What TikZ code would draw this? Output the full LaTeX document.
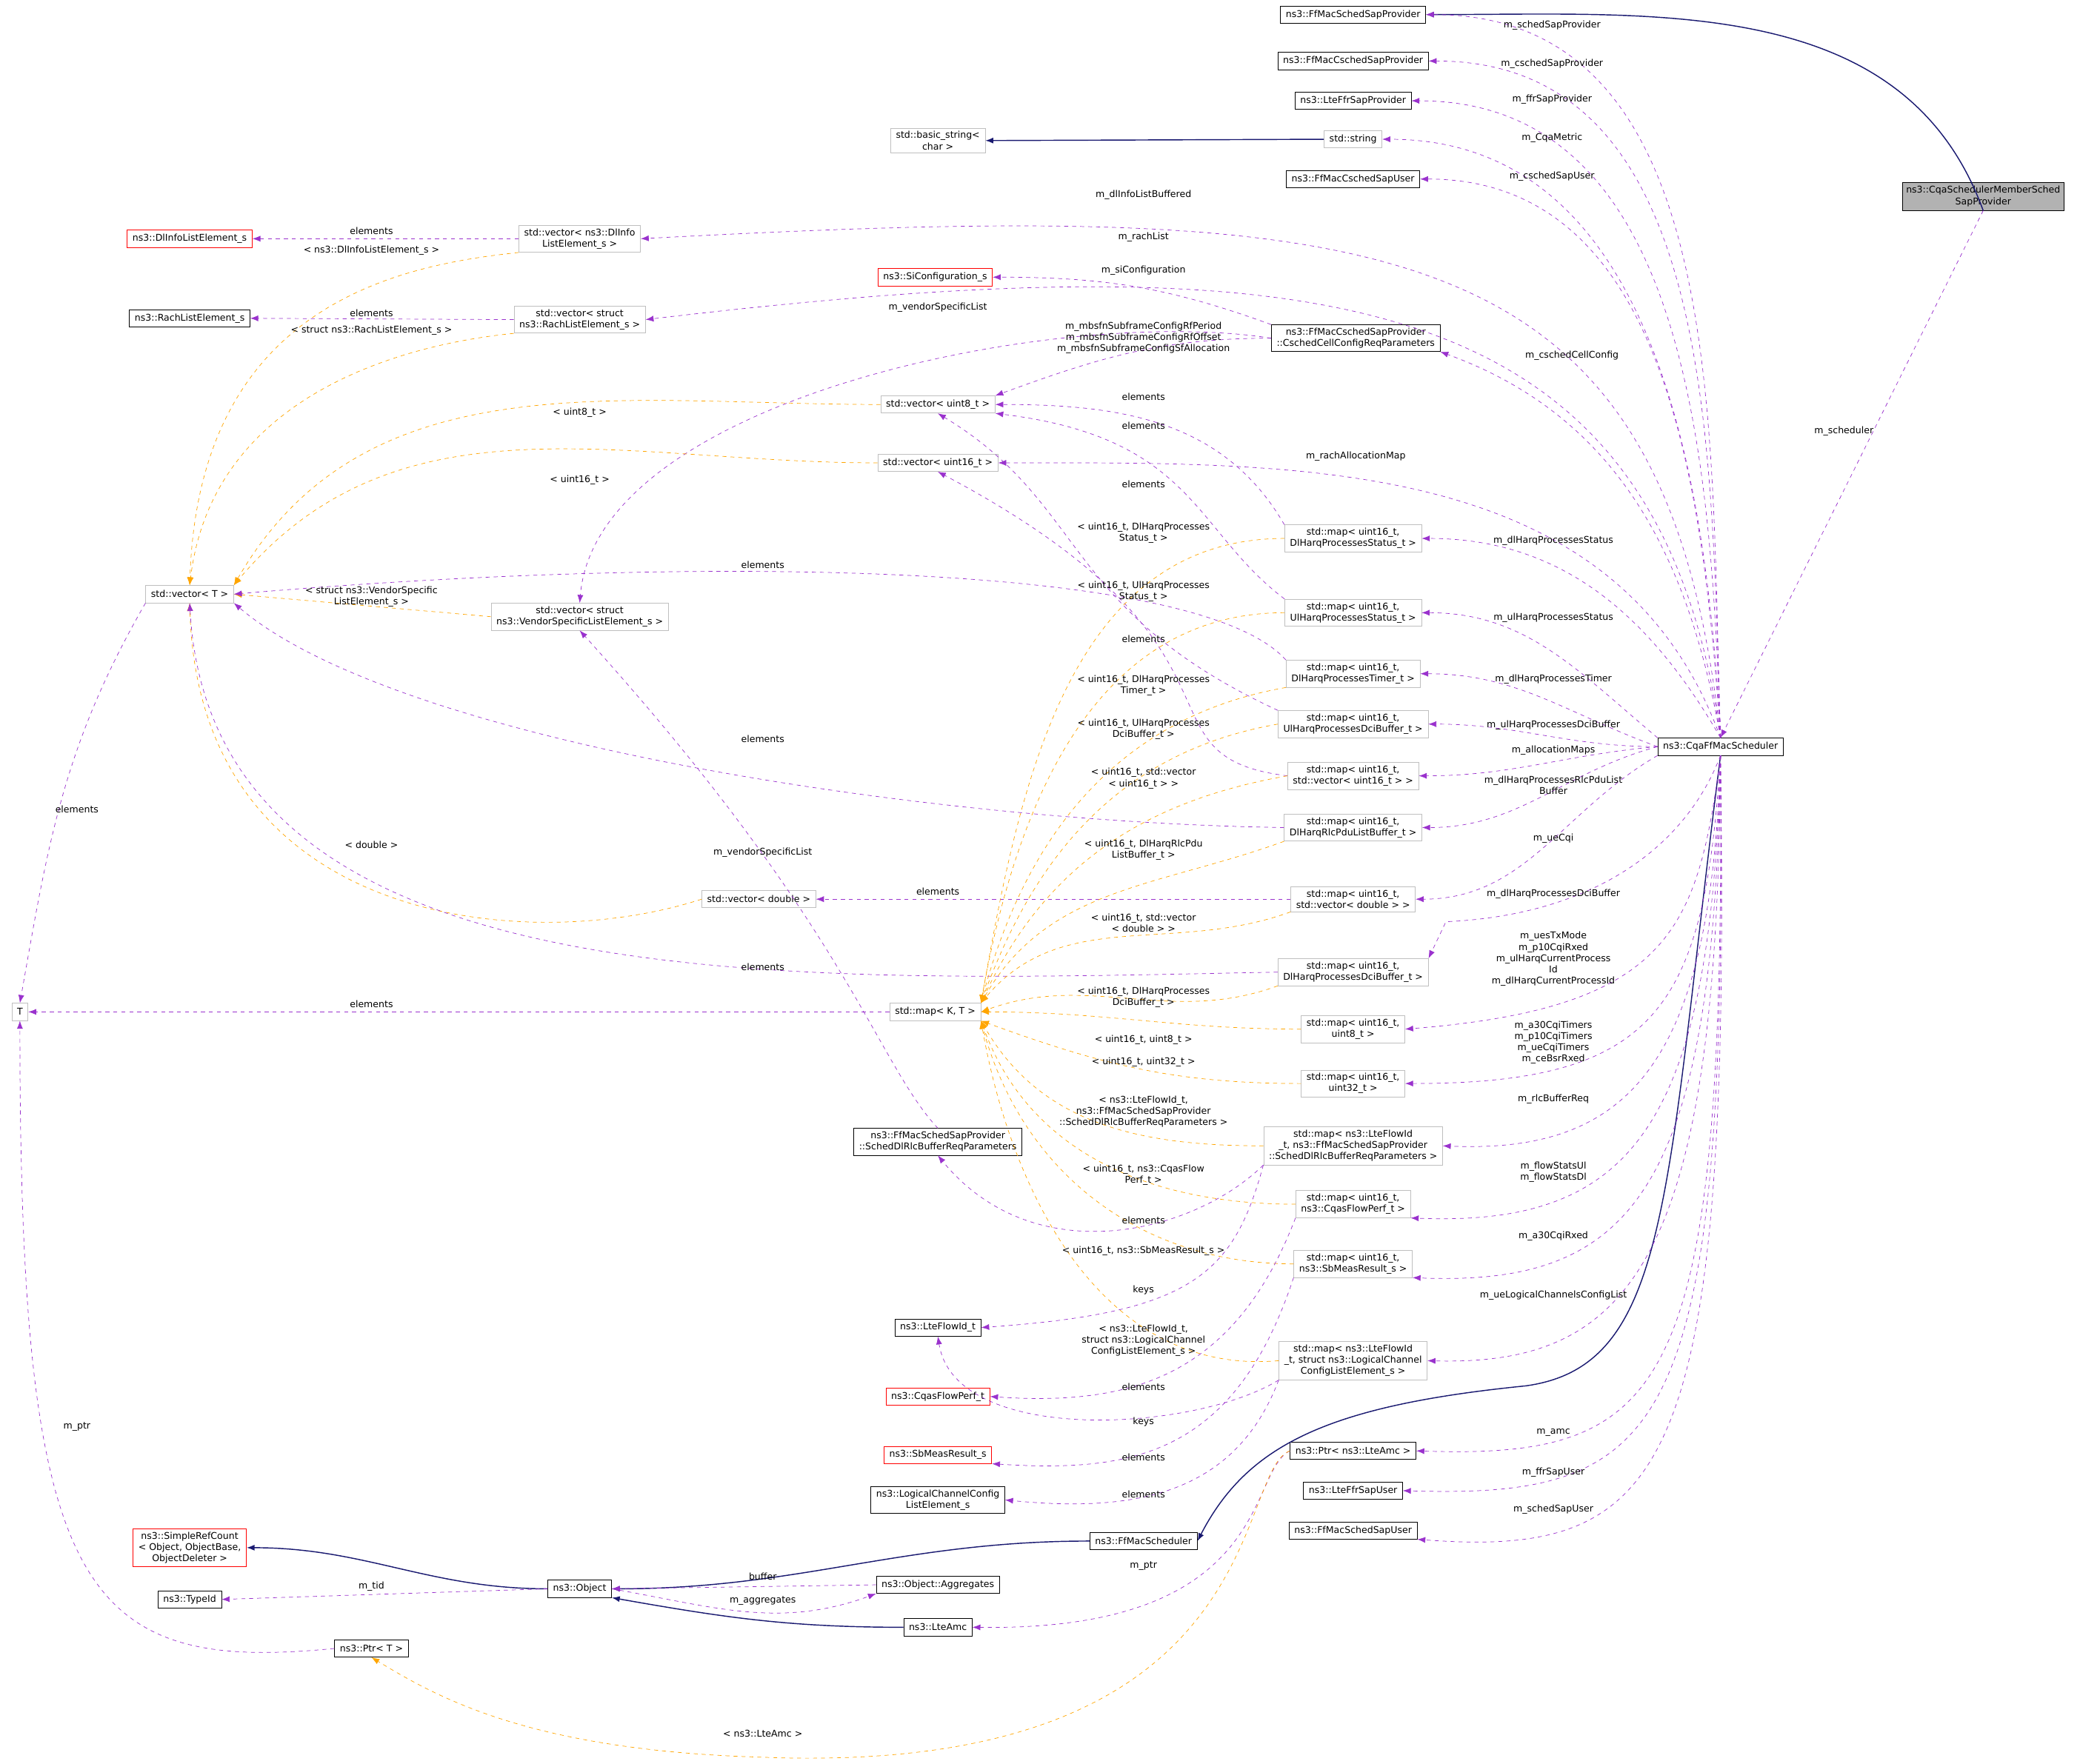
\documentclass[tikz,border=0pt]{standalone}
\usepackage{fontspec}
\setmainfont{DejaVu Sans}
\usetikzlibrary{arrows.meta}
\definecolor{pur}{HTML}{9A32CD}
\definecolor{org}{HTML}{FFA500}
\definecolor{nav}{HTML}{191970}
\definecolor{gbd}{HTML}{BFBFBF}
\begin{document}
\begin{tikzpicture}[x=1pt,y=-1pt,
  every node/.style={font=\fontsize{7}{8.4}\selectfont,align=center},
  gbox/.style={draw=gbd,fill=white,inner xsep=4pt,inner ysep=2.5pt,minimum height=13pt},
  bbox/.style={draw=black,fill=white,inner xsep=4pt,inner ysep=2.5pt,minimum height=13pt},
  rbox/.style={draw=red,fill=white,inner xsep=4pt,inner ysep=2.5pt,minimum height=13pt},
  lbl/.style={inner sep=0.5pt},
  pe/.style={draw=pur,dashed,-{Latex[length=6pt,width=4.5pt]}},
  oe/.style={draw=org,dashed,-{Latex[length=6pt,width=4.5pt]}},
  ne/.style={draw=nav,line width=0.8pt,-{Latex[length=6pt,width=4.5pt]}}]
\useasboundingbox (0,0) rectangle (1568,1330);
% nodes
\node[bbox] (N1) at (1020,11) {ns3::FfMacSchedSapProvider};
\node[bbox] (N2) at (1020,46) {ns3::FfMacCschedSapProvider};
\node[bbox] (N3) at (1020,76) {ns3::LteFfrSapProvider};
\node[gbox] (str) at (1020,105) {std::string};
\node[gbox] (bas) at (707,106) {std::basic\_string\textless\\char \textgreater};
\node[bbox] (N4) at (1020,135) {ns3::FfMacCschedSapUser};
\node[draw=black,fill=gray!60,inner sep=3pt] (mem) at (1495,148) {ns3::CqaSchedulerMemberSched\\SapProvider};
\node[gbox] (dli) at (437,180) {std::vector\textless{} ns3::DlInfo\\ListElement\_s \textgreater};
\node[rbox] (dliE) at (143,180) {ns3::DlInfoListElement\_s};
\node[rbox] (sic) at (705,209) {ns3::SiConfiguration\_s};
\node[bbox] (rachE) at (143,240) {ns3::RachListElement\_s};
\node[gbox] (rachV) at (437,241) {std::vector\textless{} struct\\ns3::RachListElement\_s \textgreater};
\node[bbox] (csc) at (1022,255) {ns3::FfMacCschedSapProvider\\::CschedCellConfigReqParameters};
\node[gbox] (v8) at (707,305) {std::vector\textless{} uint8\_t \textgreater};
\node[gbox] (v16) at (707,349) {std::vector\textless{} uint16\_t \textgreater};
\node[gbox] (vT) at (143,448) {std::vector\textless{} T \textgreater};
\node[gbox] (vV) at (437,465) {std::vector\textless{} struct\\ns3::VendorSpecificListElement\_s \textgreater};
\node[gbox] (mDS) at (1020,406) {std::map\textless{} uint16\_t,\\DlHarqProcessesStatus\_t \textgreater};
\node[gbox] (mUS) at (1020,462) {std::map\textless{} uint16\_t,\\UlHarqProcessesStatus\_t \textgreater};
\node[gbox] (mDT) at (1020,508) {std::map\textless{} uint16\_t,\\DlHarqProcessesTimer\_t \textgreater};
\node[gbox] (mUD) at (1020,546) {std::map\textless{} uint16\_t,\\UlHarqProcessesDciBuffer\_t \textgreater};
\node[gbox] (mV16) at (1020,585) {std::map\textless{} uint16\_t,\\std::vector\textless{} uint16\_t \textgreater{} \textgreater};
\node[gbox] (mR) at (1020,624) {std::map\textless{} uint16\_t,\\DlHarqRlcPduListBuffer\_t \textgreater};
\node[gbox] (vD) at (572,678) {std::vector\textless{} double \textgreater};
\node[gbox] (mVD) at (1020,678) {std::map\textless{} uint16\_t,\\std::vector\textless{} double \textgreater{} \textgreater};
\node[gbox] (mDD) at (1020,733) {std::map\textless{} uint16\_t,\\DlHarqProcessesDciBuffer\_t \textgreater};
\node[gbox] (T) at (15,763) {T};
\node[gbox] (mKT) at (705,763) {std::map\textless{} K, T \textgreater};
\node[gbox] (m8) at (1020,776) {std::map\textless{} uint16\_t,\\uint8\_t \textgreater};
\node[gbox] (m32) at (1020,817) {std::map\textless{} uint16\_t,\\uint32\_t \textgreater};
\node[gbox] (mLR) at (1020,864) {std::map\textless{} ns3::LteFlowId\\\_t, ns3::FfMacSchedSapProvider\\::SchedDlRlcBufferReqParameters \textgreater};
\node[bbox] (sDl) at (707,861) {ns3::FfMacSchedSapProvider\\::SchedDlRlcBufferReqParameters};
\node[gbox] (mCq) at (1020,908) {std::map\textless{} uint16\_t,\\ns3::CqasFlowPerf\_t \textgreater};
\node[gbox] (mSb) at (1020,953) {std::map\textless{} uint16\_t,\\ns3::SbMeasResult\_s \textgreater};
\node[bbox] (lfl) at (707,1001) {ns3::LteFlowId\_t};
\node[gbox] (mLg) at (1020,1026) {std::map\textless{} ns3::LteFlowId\\\_t, struct ns3::LogicalChannel\\ConfigListElement\_s \textgreater};
\node[rbox] (cqP) at (707,1053) {ns3::CqasFlowPerf\_t};
\node[bbox] (pAmc) at (1020,1094) {ns3::Ptr\textless{} ns3::LteAmc \textgreater};
\node[rbox] (sbM) at (707,1097) {ns3::SbMeasResult\_s};
\node[bbox] (ffU) at (1020,1124) {ns3::LteFfrSapUser};
\node[bbox] (lgC) at (707,1131) {ns3::LogicalChannelConfig\\ListElement\_s};
\node[bbox] (scU) at (1020,1154) {ns3::FfMacSchedSapUser};
\node[bbox] (ffS) at (862,1162) {ns3::FfMacScheduler};
\node[rbox] (src) at (143,1167) {ns3::SimpleRefCount\\\textless{} Object, ObjectBase,\\ObjectDeleter \textgreater};
\node[bbox] (agg) at (707,1195) {ns3::Object::Aggregates};
\node[bbox] (obj) at (437,1198) {ns3::Object};
\node[bbox] (tid) at (143,1206) {ns3::TypeId};
\node[bbox] (amc) at (707,1227) {ns3::LteAmc};
\node[bbox] (pT) at (280,1243) {ns3::Ptr\textless{} T \textgreater};
\node[bbox] (cqa) at (1297,563) {ns3::CqaFfMacScheduler};
% navy inheritance
\draw[ne] (mem.south) to[out=110,in=0] (N1.east);
\draw[ne] (str.west) -- (bas.east);
\draw[ne] (cqa.south) .. controls (1255,900) and (1260,1030) .. (1150,1045) .. controls (1000,1060) and (940,1090) .. (ffS.east);
\draw[ne] (ffS.west) to[out=180,in=0] (obj.east);
\draw[ne] (amc.west) to[out=180,in=-10] (obj.south east);
\draw[ne] (obj.west) to[out=180,in=0] (src.east);
% cqa members
\draw[pe] (cqa.north) to[out=92,in=0] (N1.east);
\draw[pe] (cqa.north) to[out=92,in=0] (N2.east);
\draw[pe] (cqa.north) to[out=92,in=0] (N3.east);
\draw[pe] (cqa.north) to[out=93,in=0] (str.east);
\draw[pe] (cqa.north) to[out=94,in=0] (N4.east);
\draw[pe] (cqa.north) .. controls (1255,170) and (1050,150) .. (dli.east);
\draw[pe] (cqa.north) .. controls (1250,215) and (1000,180) .. (rachV.east);
\draw[pe] (cqa.north) to[out=100,in=-20] (csc.south east);
\draw[pe] (cqa.north) to[out=110,in=0] (v16.east);
\draw[pe] (cqa.north) to[out=120,in=0] (mDS.east);
\draw[pe] (cqa.north west) to[out=140,in=0] (mUS.east);
\draw[pe] (cqa.west) to[out=160,in=0] (mDT.east);
\draw[pe] (cqa.west) to[out=180,in=0] (mUD.east);
\draw[pe] (cqa.west) to[out=185,in=0] (mV16.east);
\draw[pe] (cqa.west) to[out=195,in=0] (mR.east);
\draw[pe] (cqa.south west) to[out=210,in=0] (mVD.east);
\draw[pe] (cqa.south) .. controls (1270,640) and (1200,690) .. (1090,695) -- (mDD.north east);
\draw[pe] (cqa.south) .. controls (1280,700) and (1260,760) .. (m8.east);
\draw[pe] (cqa.south) .. controls (1285,760) and (1250,817) .. (m32.east);
\draw[pe] (cqa.south) .. controls (1290,800) and (1230,870) .. (mLR.east);
\draw[pe] (cqa.south) .. controls (1290,850) and (1230,925) .. (mCq.south east);
\draw[pe] (cqa.south) .. controls (1292,900) and (1230,970) .. (mSb.south east);
\draw[pe] (cqa.south) .. controls (1295,950) and (1230,1030) .. (mLg.east);
\draw[pe] (cqa.south) .. controls (1300,1050) and (1260,1100) .. (pAmc.east);
\draw[pe] (cqa.south) .. controls (1302,1080) and (1260,1130) .. (ffU.east);
\draw[pe] (cqa.south) .. controls (1305,1110) and (1260,1175) .. (scU.south east);
\draw[pe] (mem.south) -- (cqa.north);
% left part
\draw[pe] (dli.west) -- (dliE.east);
\draw[pe] (rachV.west) -- (rachE.east);
\draw[oe] (dli.south west) .. controls (300,200) and (150,230) .. (vT.north);
\draw[oe] (rachV.south west) .. controls (300,260) and (160,300) .. (vT.north);
\draw[pe] (csc.north west) to[out=160,in=0] (sic.east);
\draw[pe] (csc.west) to[out=180,in=20] (v8.north east);
\draw[pe] (csc.west) .. controls (800,230) and (450,300) .. (vV.north);
\draw[oe] (v8.west) to[out=180,in=60] (vT.north east);
\draw[oe] (v16.west) to[out=180,in=50] (vT.north east);
\draw[oe] (vV.west) -- (vT.east);
\draw[pe] (vT.south west) to[out=240,in=80] (T.north);
\draw[oe] (vD.west) .. controls (400,720) and (150,700) .. (vT.south);
\draw[pe] (sDl.north) .. controls (660,800) and (640,700) .. (vV.south);
\draw[pe] (mKT.west) -- (T.east);
\draw[pe] (pT.west) .. controls (60,1262) and (15,1200) .. (T.south);
% maps purple elements
\draw[pe] (mDS.north west) to[out=120,in=0] (v8.east);
\draw[pe] (mUS.north west) .. controls (900,400) and (900,330) .. (v8.south east);
\draw[pe] (mUD.north west) .. controls (800,460) and (820,380) .. (v8.south);
\draw[pe] (mV16.west) .. controls (850,570) and (960,490) .. (v16.south);
\draw[pe] (mDT.north west) .. controls (900,420) and (500,420) .. (vT.east);
\draw[pe] (mR.west) .. controls (700,620) and (300,560) .. (vT.south east);
\draw[pe] (mVD.west) -- (vD.east);
\draw[pe] (mDD.west) .. controls (600,740) and (160,760) .. (vT.south);
% maps orange to K,T
\draw[oe] (mDS.west) to[out=180,in=80] (mKT.north east);
\draw[oe] (mUS.west) to[out=180,in=80] (mKT.north east);
\draw[oe] (mDT.south west) to[out=190,in=75] (mKT.north east);
\draw[oe] (mUD.west) to[out=190,in=70] (mKT.north east);
\draw[oe] (mV16.west) to[out=190,in=65] (mKT.north east);
\draw[oe] (mR.south west) to[out=200,in=60] (mKT.north east);
\draw[oe] (mVD.south west) to[out=200,in=50] (mKT.north east);
\draw[oe] (mDD.south west) to[out=200,in=20] (mKT.east);
\draw[oe] (m8.west) to[out=180,in=0] (mKT.east);
\draw[oe] (m32.west) to[out=180,in=-20] (mKT.south east);
\draw[oe] (mLR.west) to[out=180,in=-60] (mKT.south east);
\draw[oe] (mCq.west) to[out=180,in=-70] (mKT.south east);
\draw[oe] (mSb.west) to[out=180,in=-75] (mKT.south east);
\draw[oe] (mLg.west) to[out=185,in=-80] (mKT.south east);
% maps to value types
\draw[pe] (mLR.south west) .. controls (900,930) and (780,960) .. (sDl.south);
\draw[pe] (mLR.south west) .. controls (930,960) and (900,990) .. (lfl.east);
\draw[pe] (mCq.south west) .. controls (930,1040) and (850,1060) .. (cqP.east);
\draw[pe] (mLg.south west) .. controls (900,1080) and (720,1090) .. (lfl.south);
\draw[pe] (mSb.south west) .. controls (930,1100) and (850,1110) .. (sbM.south east);
\draw[pe] (mLg.south west) .. controls (930,1130) and (850,1140) .. (lgC.east);
% ptr & object
\draw[pe] (pAmc.west) .. controls (940,1110) and (960,1230) .. (amc.east);
\draw[oe] (pAmc.west) .. controls (930,1110) and (960,1340) .. (575,1325) .. controls (400,1320) and (330,1280) .. (pT.south);
\draw[pe] (obj.west) -- (tid.east);
\draw[pe] (obj.east) to[out=-10,in=-160] (agg.south west);
\draw[pe] (agg.west) -- (obj.east);
% labels
\node[lbl] (l1) at (1170,19) {m\_schedSapProvider};
\node[lbl] (l2) at (1170,48) {m\_cschedSapProvider};
\node[lbl] (l3) at (1170,75) {m\_ffrSapProvider};
\node[lbl] (l4) at (1170,104) {m\_CqaMetric};
\node[lbl] (l5) at (1170,133) {m\_cschedSapUser};
\node[lbl] (l6) at (862,147) {m\_dlInfoListBuffered};
\node[lbl] (l7) at (862,179) {m\_rachList};
\node[lbl] (l8) at (862,204) {m\_siConfiguration};
\node[lbl] (l9) at (707,232) {m\_vendorSpecificList};
\node[lbl] (l10) at (862,255) {m\_mbsfnSubframeConfigRfPeriod\\m\_mbsfnSubframeConfigRfOffset\\m\_mbsfnSubframeConfigSfAllocation};
\node[lbl] (l11) at (1185,268) {m\_cschedCellConfig};
\node[lbl] (l12) at (1390,325) {m\_scheduler};
\node[lbl] (l13) at (1022,344) {m\_rachAllocationMap};
\node[lbl] (l14) at (862,299) {elements};
\node[lbl] (l15) at (862,321) {elements};
\node[lbl] (l16) at (862,365) {elements};
\node[lbl] (l17) at (862,482) {elements};
\node[lbl] (l18) at (1171,408) {m\_dlHarqProcessesStatus};
\node[lbl] (l19) at (1171,466) {m\_ulHarqProcessesStatus};
\node[lbl] (l20) at (1171,512) {m\_dlHarqProcessesTimer};
\node[lbl] (l21) at (1171,547) {m\_ulHarqProcessesDciBuffer};
\node[lbl] (l22) at (1171,566) {m\_allocationMaps};
\node[lbl] (l23) at (1171,592) {m\_dlHarqProcessesRlcPduList\\Buffer};
\node[lbl] (l24) at (1171,632) {m\_ueCqi};
\node[lbl] (l25) at (1171,674) {m\_dlHarqProcessesDciBuffer};
\node[lbl] (l26) at (1171,723) {m\_uesTxMode\\m\_p10CqiRxed\\m\_ulHarqCurrentProcess\\Id\\m\_dlHarqCurrentProcessId};
\node[lbl] (l27) at (1171,786) {m\_a30CqiTimers\\m\_p10CqiTimers\\m\_ueCqiTimers\\m\_ceBsrRxed};
\node[lbl] (l28) at (1171,829) {m\_rlcBufferReq};
\node[lbl] (l29) at (1171,884) {m\_flowStatsUl\\m\_flowStatsDl};
\node[lbl] (l30) at (1171,932) {m\_a30CqiRxed};
\node[lbl] (l31) at (1171,977) {m\_ueLogicalChannelsConfigList};
\node[lbl] (l32) at (1171,1080) {m\_amc};
\node[lbl] (l33) at (1171,1110) {m\_ffrSapUser};
\node[lbl] (l34) at (1171,1138) {m\_schedSapUser};
\node[lbl] (l35) at (862,1181) {m\_ptr};
\node[lbl] (l36) at (280,174) {elements};
\node[lbl] (l37) at (280,189) {\textless{} ns3::DlInfoListElement\_s \textgreater};
\node[lbl] (l38) at (280,236) {elements};
\node[lbl] (l39) at (280,249) {\textless{} struct ns3::RachListElement\_s \textgreater};
\node[lbl] (l40) at (437,311) {\textless{} uint8\_t \textgreater};
\node[lbl] (l41) at (437,362) {\textless{} uint16\_t \textgreater};
\node[lbl] (l42) at (575,426) {elements};
\node[lbl] (l43) at (280,450) {\textless{} struct ns3::VendorSpecific\\ListElement\_s \textgreater};
\node[lbl] (l44) at (58,610) {elements};
\node[lbl] (l45) at (575,557) {elements};
\node[lbl] (l46) at (280,637) {\textless{} double \textgreater};
\node[lbl] (l47) at (575,643) {m\_vendorSpecificList};
\node[lbl] (l48) at (707,672) {elements};
\node[lbl] (l49) at (575,729) {elements};
\node[lbl] (l50) at (280,757) {elements};
\node[lbl] (l51) at (58,1076) {m\_ptr};
\node[lbl] (l52) at (280,1196) {m\_tid};
\node[lbl] (l53) at (575,1189) {buffer};
\node[lbl] (l54) at (575,1207) {m\_aggregates};
\node[lbl] (l55) at (575,1307) {\textless{} ns3::LteAmc \textgreater};
\node[lbl] (o1) at (862,402) {\textless{} uint16\_t, DlHarqProcesses\\Status\_t \textgreater};
\node[lbl] (o2) at (862,446) {\textless{} uint16\_t, UlHarqProcesses\\Status\_t \textgreater};
\node[lbl] (o3) at (862,517) {\textless{} uint16\_t, DlHarqProcesses\\Timer\_t \textgreater};
\node[lbl] (o4) at (862,550) {\textless{} uint16\_t, UlHarqProcesses\\DciBuffer\_t \textgreater};
\node[lbl] (o5) at (862,587) {\textless{} uint16\_t, std::vector\\\textless{} uint16\_t \textgreater{} \textgreater};
\node[lbl] (o6) at (862,641) {\textless{} uint16\_t, DlHarqRlcPdu\\ListBuffer\_t \textgreater};
\node[lbl] (o7) at (862,696) {\textless{} uint16\_t, std::vector\\\textless{} double \textgreater{} \textgreater};
\node[lbl] (o8) at (862,752) {\textless{} uint16\_t, DlHarqProcesses\\DciBuffer\_t \textgreater};
\node[lbl] (o9) at (862,784) {\textless{} uint16\_t, uint8\_t \textgreater};
\node[lbl] (o10) at (862,801) {\textless{} uint16\_t, uint32\_t \textgreater};
\node[lbl] (o11) at (862,838) {\textless{} ns3::LteFlowId\_t,\\ns3::FfMacSchedSapProvider\\::SchedDlRlcBufferReqParameters \textgreater};
\node[lbl] (o12) at (862,886) {\textless{} uint16\_t, ns3::CqasFlow\\Perf\_t \textgreater};
\node[lbl] (o13) at (862,943) {\textless{} uint16\_t, ns3::SbMeasResult\_s \textgreater};
\node[lbl] (o14) at (862,1011) {\textless{} ns3::LteFlowId\_t,\\struct ns3::LogicalChannel\\ConfigListElement\_s \textgreater};
\node[lbl] (e1) at (862,920) {elements};
\node[lbl] (e2) at (862,973) {keys};
\node[lbl] (e3) at (862,1046) {elements};
\node[lbl] (e4) at (862,1072) {keys};
\node[lbl] (e5) at (862,1099) {elements};
\node[lbl] (e6) at (862,1127) {elements};
\end{tikzpicture}
\end{document}
